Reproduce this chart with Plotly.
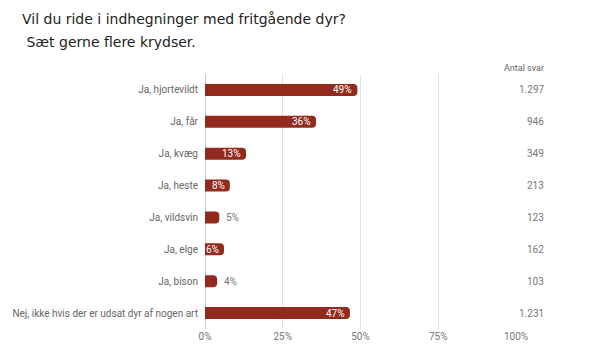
import plotly.graph_objects as go

categories = ["Ja, hjortevildt", "Ja, får", "Ja, kvæg", "Ja, heste", "Ja, vildsvin",
              "Ja, elge", "Ja, bison", "Nej, ikke hvis der er udsat dyr af nogen art"]
percent = [49.0, 35.7, 13.2, 8.0, 4.6, 6.1, 3.9, 46.6]
counts = ["1.297", "946", "349", "213", "123", "162", "103", "1.231"]
label_inside = [True, True, True, True, False, True, False, True]
tick_vals = [0, 25, 50, 75, 100]
tick_text = ["0%", "25%", "50%", "75%", "100%"]
title_lines = ["Vil du ride i indhegninger med fritgående dyr?", " Sæt gerne flere krydser."]

bar_color = "#922b1e"

fig = go.Figure()
fig.add_trace(go.Bar(
    y=categories, x=percent, orientation="h",
    marker=dict(color=bar_color, cornerradius=4, line=dict(width=0)),
    width=0.38, hoverinfo="skip",
))

annotations = []
# value labels
for c, p, ins in zip(categories, percent, label_inside):
    annotations.append(dict(
        x=p, y=c, xref="x", yref="y", text=f"{round(p)}%", showarrow=False,
        xanchor="right" if ins else "left", xshift=-3 if ins else 5,
        font=dict(family="Roboto", size=10, color="white" if ins else "#777777")))
# right column
annotations.append(dict(x=1.096, y=1.0, xref="paper", yref="paper", yanchor="bottom",
                        text="Antal svar", showarrow=False, yshift=-1,
                        font=dict(family="Roboto", size=9, color="#666666")))
for c, n in zip(categories, counts):
    annotations.append(dict(x=1.096, y=c, xref="paper", yref="y", text=n, showarrow=False,
                            font=dict(family="Roboto", size=10, color="#777777")))
# title lines
for txt, yp in zip(title_lines, [1.2157, 1.1255]):
    annotations.append(dict(x=-0.594, y=yp, xref="paper", yref="paper",
                            xanchor="left", yanchor="middle", text=txt, showarrow=False,
                            font=dict(family="DejaVu Sans", size=14, color="#222222")))

fig.update_layout(
    width=600, height=354,
    margin=dict(l=203, r=84, t=74, b=25),
    paper_bgcolor="white", plot_bgcolor="white",
    showlegend=False,
    annotations=annotations,
    xaxis=dict(range=[0, 100], tickvals=tick_vals, ticktext=tick_text,
               showgrid=True, gridcolor="#e3e3e3", gridwidth=1,
               zeroline=True, zerolinecolor="#c8c8c8", zerolinewidth=1,
               tickfont=dict(family="Roboto", size=10, color="#777777"),
               ticks="", fixedrange=True),
    yaxis=dict(autorange="reversed", showgrid=False, zeroline=False,
               ticks="", ticklabelstandoff=6,
               tickfont=dict(family="Roboto", size=10, color="#666666")),
)

fig.write_html("out.html")
